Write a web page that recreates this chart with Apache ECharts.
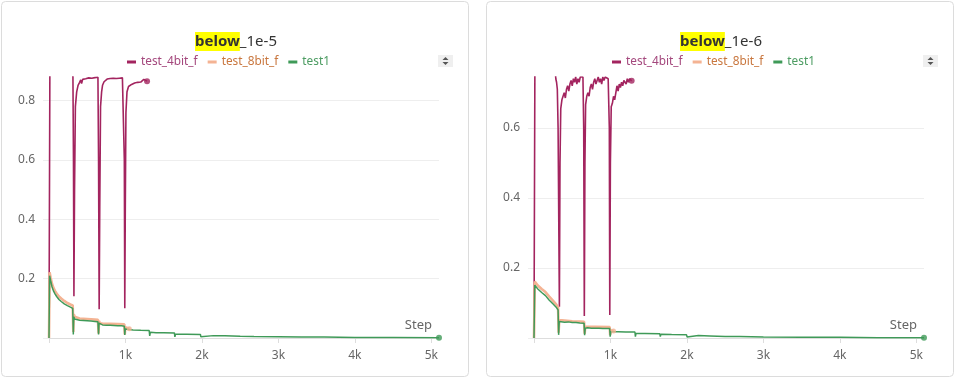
<!DOCTYPE html>
<html>
<head>
<meta charset="utf-8">
<script src="https://cdn.jsdelivr.net/npm/echarts@6/dist/echarts.min.js"></script>
<style>
html,body{margin:0;padding:0;background:#fff;}
#c{width:962px;height:379px;}
</style>
</head>
<body>
<div id="c"></div>
<script>
// ---------- data ----------
const seriesNames = ['test_4bit_f', 'test_8bit_f', 'test1'];
const chartTitles = ['1e-5', '1e-6'];
const titleHighlight = 'below';
const xTickLabels = ['1k', '2k', '3k', '4k', '5k'];

// chart 1 (below_1e-5) : [step, value]
const c1_test_4bit_f = [[0,0],[12,0.95],[50,0.96],[100,0.95],[150,0.96],[200,0.95],[250,0.94],[300,0.93],
 [313,0.88],[320,0.6],[326,0.141],[334,0.5],[345,0.78],[362,0.83],[380,0.852],[400,0.862],[415,0.87],[426,0.858],
 [440,0.872],[460,0.868],[480,0.874],[500,0.871],[520,0.877],[540,0.873],[560,0.876],[580,0.874],[600,0.878],[620,0.876],[640,0.879],
 [648,0.6],[656,0.097],[664,0.45],[674,0.78],[688,0.83],[700,0.852],[720,0.864],[740,0.869],[760,0.873],[780,0.871],[800,0.875],
 [820,0.874],[840,0.876],[860,0.877],[880,0.875],[900,0.878],[920,0.876],[940,0.879],[960,0.877],[978,0.88],
 [985,0.6],[991,0.10],[998,0.45],[1006,0.76],[1020,0.83],[1040,0.848],[1060,0.851],[1080,0.855],[1100,0.856],[1120,0.86],
 [1140,0.858],[1160,0.862],[1180,0.865],[1200,0.863],[1220,0.868],[1240,0.872],[1260,0.867],[1282,0.866]];
const c1_test_8bit_f = [[0,0],[8,0.222],[20,0.205],[40,0.182],[60,0.168],[80,0.158],[100,0.15],[130,0.14],[160,0.133],[200,0.125],
 [240,0.118],[280,0.113],[310,0.11],[318,0.02],[324,0.08],[335,0.072],[360,0.068],[400,0.066],[450,0.065],[500,0.064],[550,0.063],
 [600,0.062],[640,0.061],[648,0.015],[654,0.057],[665,0.05],[700,0.049],[800,0.048],[900,0.047],[985,0.046],[991,0.012],[997,0.036],
 [1020,0.033],[1050,0.031]];
const c1_test1 = [[0,0],[8,0.21],[20,0.195],[40,0.172],[60,0.158],[80,0.148],[100,0.14],[130,0.13],[160,0.123],[200,0.115],
 [240,0.109],[280,0.104],[310,0.10],[318,0.012],[324,0.072],[335,0.064],[360,0.062],[400,0.06],[450,0.059],[500,0.058],[550,0.057],
 [600,0.056],[640,0.055],[648,0.012],[654,0.05],[665,0.045],[700,0.044],[750,0.043],[800,0.043],[850,0.042],[900,0.041],[950,0.041],
 [985,0.04],[991,0.01],[997,0.03],[1010,0.027],[1100,0.027],[1200,0.026],[1310,0.025],[1317,0.007],[1325,0.019],[1400,0.018],
 [1500,0.018],[1640,0.017],[1646,0.004],[1655,0.013],[1800,0.013],[1980,0.012],[1986,0.004],[1995,0.009],[2150,0.008],[2300,0.008],
 [2310,0.004],[2320,0.006],[2500,0.006],[2680,0.005],[2690,0.002],[2700,0.004],[3000,0.004],[3300,0.003],[3600,0.003],[4000,0.002],
 [4500,0.002],[5100,0.001]];

// chart 2 (below_1e-6)
const c2_test_4bit_f = [[0,0],[12,0.8],[100,0.82],[200,0.81],[270,0.79],[285,0.74],[295,0.73],[305,0.71],[315,0.6],[332,0.089],
 [340,0.5],[350,0.655],[365,0.68],[380,0.69],[395,0.70],[410,0.685],[425,0.71],[440,0.72],[455,0.705],[470,0.725],[485,0.735],
 [500,0.72],[515,0.74],[530,0.73],[545,0.745],[560,0.725],[575,0.74],[590,0.73],[605,0.745],[620,0.74],[640,0.745],
 [650,0.6],[658,0.063],[666,0.5],[675,0.666],[690,0.69],[705,0.70],[720,0.69],[735,0.715],[750,0.725],[765,0.71],[780,0.73],
 [795,0.74],[810,0.725],[825,0.735],[840,0.745],[855,0.73],[870,0.74],[885,0.725],[900,0.745],[915,0.735],[930,0.745],[950,0.745],
 [970,0.74],[985,0.6],[991,0.066],[999,0.5],[1010,0.66],[1025,0.67],[1040,0.69],[1055,0.68],[1070,0.70],[1085,0.72],[1100,0.705],
 [1115,0.725],[1130,0.715],[1145,0.73],[1160,0.72],[1175,0.735],[1190,0.74],[1205,0.725],[1220,0.74],[1235,0.73],[1250,0.74],
 [1265,0.735],[1277,0.734]];
const c2_test_8bit_f = [[0,0],[10,0.161],[20,0.158],[50,0.15],[100,0.14],[150,0.131],[200,0.118],[250,0.106],[290,0.096],[315,0.088],
 [322,0.015],[330,0.051],[400,0.05],[500,0.048],[600,0.047],[655,0.046],[662,0.012],[670,0.032],[800,0.032],[990,0.031],[996,0.008],
 [1004,0.022],[1040,0.02]];
const c2_test1 = [[0,0],[10,0.151],[20,0.148],[50,0.14],[100,0.13],[150,0.121],[200,0.108],[250,0.097],[290,0.088],[315,0.08],
 [322,0.009],[330,0.047],[350,0.046],[400,0.045],[450,0.046],[500,0.044],[550,0.044],[600,0.043],[655,0.042],[662,0.008],[670,0.028],
 [700,0.029],[750,0.028],[800,0.028],[850,0.028],[900,0.027],[990,0.027],[996,0.004],[1004,0.018],[1100,0.018],[1200,0.017],
 [1320,0.017],[1326,0.004],[1334,0.013],[1450,0.013],[1645,0.012],[1652,0.004],[1660,0.011],[1800,0.01],[1995,0.009],[2002,0.003],
 [2010,0.008],[2150,0.007],[2300,0.006],[2310,0.002],[2320,0.005],[2500,0.004],[2690,0.004],[2700,0.002],[2710,0.003],[3000,0.003],
 [3500,0.002],[4000,0.002],[4500,0.001],[5100,0.001]];

const yMaxes = [0.88, 0.745];
const xMax = 5100;

// ---------- styling ----------
const FONT = 'Noto Sans';
const lineColors = ['#a3245f', '#f4b393', '#3f9a58'];
const legendTextColors = ['#a4487d', '#c9773f', '#4c9c62'];
const lineWidths = [1.6, 2.6, 1.5];
const panels = [{x: 1.5, cx: 231, gridLeft: 49, legendLeft: 127, iconX: 438},
                {x: 486.5, cx: 716, gridLeft: 534, legendLeft: 612, iconX: 923}];
const chartData = [[c1_test_4bit_f, c1_test_8bit_f, c1_test1], [c2_test_4bit_f, c2_test_8bit_f, c2_test1]];

const chart = echarts.init(document.getElementById('c'), null, {renderer: 'canvas'});

const grids = [], xAxes = [], yAxes = [], series = [], titles = [], legends = [], graphics = [];

panels.forEach((p, i) => {
  graphics.push({type: 'rect', z: -10, shape: {x: p.x, y: 1.5, width: 467, height: 375, r: 4},
    style: {fill: '#fff', stroke: '#dcdcdc', lineWidth: 1}});
  // up/down icon box
  graphics.push({type: 'group', z: 10, children: [
    {type: 'rect', shape: {x: p.iconX, y: 55, width: 15, height: 12}, style: {fill: '#efefef'}},
    {type: 'polygon', shape: {points: [[p.iconX + 4.5, 60], [p.iconX + 10.5, 60], [p.iconX + 7.5, 57]]}, style: {fill: '#555'}},
    {type: 'polygon', shape: {points: [[p.iconX + 4.5, 62], [p.iconX + 10.5, 62], [p.iconX + 7.5, 65]]}, style: {fill: '#555'}}
  ]});
  titles.push({
    text: '{hl|' + titleHighlight + '}_' + chartTitles[i],
    left: p.cx, top: 27, textAlign: 'center',
    textStyle: {fontFamily: FONT, fontSize: 15, fontWeight: 'normal', color: '#333', lineHeight: 19,
      rich: {hl: {backgroundColor: '#ffff00', fontWeight: 'bold', fontFamily: FONT, fontSize: 15, color: '#333', lineHeight: 19, height: 19}}}
  });
  legends.push({
    left: p.legendLeft, top: 56, padding: 0, icon: 'rect', itemWidth: 9, itemHeight: 3, itemGap: 10,
    textStyle: {fontFamily: FONT, fontSize: 11.8},
    data: seriesNames.map((n, k) => ({name: n, textStyle: {color: legendTextColors[k]}}))
  });
  grids.push({left: p.gridLeft, width: 390, top: 77, height: 261});
  xAxes.push({
    gridIndex: i, type: 'value', min: 0, max: xMax, interval: 1000,
    axisLine: {lineStyle: {color: '#dddddd'}},
    axisTick: {show: true, length: 5, lineStyle: {color: '#dddddd'}},
    splitLine: {show: false},
    axisLabel: {color: '#666', fontFamily: FONT, fontSize: 12, margin: 12, showMaxLabel: false,
      formatter: v => { const k = Math.round(v / 1000); return (v > 0 && v % 1000 === 0) ? xTickLabels[k - 1] : ''; }},
    name: 'Step', nameLocation: 'end', nameGap: -7,
    nameTextStyle: {align: 'right', verticalAlign: 'bottom', color: '#666', fontFamily: FONT, fontSize: 13, padding: [0, 0, 6, 0]}
  });
  yAxes.push({
    gridIndex: i, type: 'value', min: 0, max: yMaxes[i], interval: 0.2,
    axisLine: {show: false},
    axisTick: {show: true, length: 6, lineStyle: {color: '#eeeeee'}},
    splitLine: {show: true, showMinLine: false, showMaxLine: false, lineStyle: {color: '#eeeeee'}},
    axisLabel: {color: '#666', fontFamily: FONT, fontSize: 12, margin: 14, showMaxLabel: false,
      formatter: v => { const r = Math.round(v * 5); return (r > 0 && Math.abs(v * 5 - r) < 1e-6) ? (r / 5).toFixed(1) : ''; }}
  });
  chartData[i].forEach((d, k) => {
    series.push({
      name: seriesNames[k], type: 'line', xAxisIndex: i, yAxisIndex: i, data: d,
      showSymbol: false, symbol: 'none', animation: false, clip: true,
      lineStyle: {color: lineColors[k], width: lineWidths[k]}, itemStyle: {color: lineColors[k]}, z: 2 + k
    });
    series.push({
      name: seriesNames[k], type: 'scatter', xAxisIndex: i, yAxisIndex: i, data: [d[d.length - 1]],
      symbolSize: k === 1 ? 5 : 6, animation: false, itemStyle: {color: lineColors[k]}, z: 3 + k, silent: true
    });
  });
});

chart.setOption({
  animation: false,
  backgroundColor: '#ffffff',
  title: titles, legend: legends, grid: grids, xAxis: xAxes, yAxis: yAxes, series: series,
  graphic: graphics
});
</script>
</body>
</html>
